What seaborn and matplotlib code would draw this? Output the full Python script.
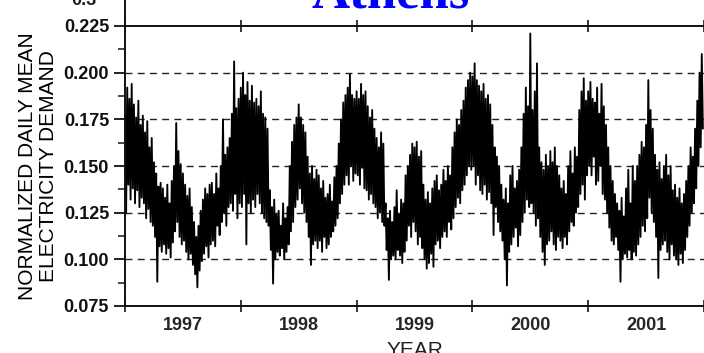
import numpy as np
import matplotlib
matplotlib.use("Agg")
import matplotlib.pyplot as plt
from matplotlib.lines import Line2D
import seaborn as sns

# weekly peaks / troughs of normalized daily mean demand
years = [1997, 1998, 1999, 2000, 2001]
year_labels = ["1997", "1998", "1999", "2000", "2001"]

high_1997 = [0.178, 0.192, 0.186, 0.194, 0.183, 0.176, 0.185, 0.172, 0.177, 0.168, 0.174, 0.160, 0.165,
             0.152, 0.146, 0.139, 0.141, 0.138, 0.133, 0.140, 0.130, 0.142, 0.150, 0.173, 0.158, 0.151,
             0.146, 0.140, 0.134, 0.138, 0.128, 0.120, 0.112, 0.118, 0.126, 0.132, 0.138, 0.135, 0.140,
             0.141, 0.135, 0.146, 0.138, 0.150, 0.175, 0.156, 0.160, 0.165, 0.178, 0.206, 0.181, 0.186]
low_1997 = [0.125, 0.140, 0.132, 0.138, 0.130, 0.137, 0.128, 0.133, 0.130, 0.122, 0.127, 0.120, 0.118,
            0.112, 0.088, 0.107, 0.104, 0.108, 0.103, 0.106, 0.101, 0.109, 0.115, 0.120, 0.112, 0.108,
            0.110, 0.104, 0.100, 0.103, 0.097, 0.092, 0.085, 0.094, 0.099, 0.103, 0.107, 0.101, 0.108,
            0.110, 0.107, 0.118, 0.113, 0.120, 0.125, 0.118, 0.128, 0.130, 0.126, 0.135, 0.122, 0.130]

high_1998 = [0.192, 0.200, 0.188, 0.195, 0.185, 0.193, 0.184, 0.186, 0.182, 0.190, 0.178, 0.176, 0.170,
             0.137, 0.128, 0.132, 0.124, 0.126, 0.118, 0.130, 0.122, 0.128, 0.150, 0.163, 0.172, 0.176,
             0.183, 0.176, 0.172, 0.168, 0.155, 0.146, 0.150, 0.143, 0.148, 0.145, 0.138, 0.142, 0.133,
             0.135, 0.140, 0.131, 0.144, 0.150, 0.162, 0.175, 0.184, 0.188, 0.192, 0.199, 0.188, 0.186]
low_1998 = [0.128, 0.135, 0.108, 0.130, 0.125, 0.132, 0.128, 0.135, 0.130, 0.125, 0.122, 0.120, 0.118,
            0.105, 0.087, 0.100, 0.104, 0.102, 0.106, 0.100, 0.104, 0.108, 0.115, 0.120, 0.128, 0.132,
            0.138, 0.130, 0.125, 0.120, 0.112, 0.097, 0.108, 0.110, 0.106, 0.110, 0.104, 0.112, 0.106,
            0.108, 0.112, 0.115, 0.118, 0.122, 0.130, 0.135, 0.140, 0.145, 0.140, 0.150, 0.142, 0.146]

high_1999 = [0.190, 0.186, 0.194, 0.188, 0.190, 0.182, 0.176, 0.180, 0.170, 0.165, 0.160, 0.168, 0.162,
             0.130, 0.122, 0.126, 0.120, 0.128, 0.137, 0.124, 0.132, 0.130, 0.145, 0.150, 0.156, 0.162,
             0.160, 0.163, 0.155, 0.158, 0.140, 0.132, 0.136, 0.130, 0.138, 0.142, 0.145, 0.137, 0.140,
             0.148, 0.142, 0.150, 0.145, 0.160, 0.168, 0.175, 0.172, 0.180, 0.185, 0.192, 0.196, 0.200]
low_1999 = [0.145, 0.140, 0.149, 0.138, 0.137, 0.132, 0.135, 0.130, 0.128, 0.122, 0.125, 0.120, 0.118,
            0.105, 0.089, 0.100, 0.102, 0.100, 0.105, 0.102, 0.098, 0.104, 0.110, 0.118, 0.112, 0.120,
            0.115, 0.108, 0.112, 0.106, 0.100, 0.095, 0.098, 0.103, 0.096, 0.108, 0.110, 0.106, 0.112,
            0.115, 0.112, 0.120, 0.116, 0.122, 0.128, 0.133, 0.130, 0.137, 0.140, 0.145, 0.150, 0.148]

high_2000 = [0.198, 0.205, 0.196, 0.193, 0.190, 0.194, 0.186, 0.188, 0.183, 0.172, 0.160, 0.155, 0.150,
             0.140, 0.132, 0.138, 0.130, 0.145, 0.150, 0.138, 0.142, 0.148, 0.160, 0.178, 0.192, 0.182,
             0.221, 0.180, 0.190, 0.205, 0.160, 0.152, 0.148, 0.156, 0.150, 0.158, 0.152, 0.160, 0.150,
             0.145, 0.138, 0.142, 0.135, 0.150, 0.158, 0.146, 0.160, 0.155, 0.180, 0.190, 0.197, 0.185]
low_2000 = [0.150, 0.140, 0.145, 0.137, 0.135, 0.140, 0.132, 0.136, 0.130, 0.113, 0.128, 0.120, 0.115,
            0.110, 0.100, 0.086, 0.104, 0.108, 0.112, 0.117, 0.107, 0.113, 0.120, 0.125, 0.132, 0.128,
            0.130, 0.125, 0.118, 0.122, 0.112, 0.104, 0.097, 0.108, 0.110, 0.115, 0.108, 0.105, 0.112,
            0.110, 0.106, 0.112, 0.108, 0.115, 0.120, 0.118, 0.125, 0.128, 0.135, 0.140, 0.132, 0.145]

high_2001 = [0.190, 0.195, 0.186, 0.184, 0.192, 0.178, 0.194, 0.182, 0.172, 0.160, 0.150, 0.142, 0.135,
             0.130, 0.126, 0.133, 0.123, 0.138, 0.148, 0.130, 0.150, 0.142, 0.150, 0.156, 0.163, 0.160,
             0.172, 0.196, 0.180, 0.170, 0.156, 0.148, 0.152, 0.143, 0.150, 0.156, 0.145, 0.150, 0.137,
             0.140, 0.133, 0.138, 0.130, 0.135, 0.142, 0.150, 0.160, 0.155, 0.170, 0.185, 0.200, 0.210]
low_2001 = [0.150, 0.145, 0.155, 0.140, 0.142, 0.150, 0.135, 0.132, 0.125, 0.117, 0.110, 0.108, 0.112,
            0.105, 0.088, 0.100, 0.103, 0.101, 0.105, 0.100, 0.104, 0.102, 0.108, 0.112, 0.118, 0.115,
            0.122, 0.133, 0.125, 0.120, 0.112, 0.090, 0.105, 0.108, 0.110, 0.104, 0.100, 0.108, 0.102,
            0.100, 0.097, 0.103, 0.098, 0.105, 0.112, 0.118, 0.125, 0.130, 0.138, 0.150, 0.160, 0.170]

highs = high_1997 + high_1998 + high_1999 + high_2000 + high_2001
lows = low_1997 + low_1998 + low_1999 + low_2000 + low_2001

# weekday peak then weekend trough, one pair per week
n = len(highs)
t_hi = 1997 + np.arange(n) / 52.0
t_lo = t_hi + 0.5 / 52.0
t = np.column_stack([t_hi, t_lo]).ravel()
v = np.column_stack([highs, lows]).ravel()

sns.set_style("ticks")
plt.rcParams['font.family'] = ['Liberation Sans', 'DejaVu Sans']

fig = plt.figure(figsize=(7.04, 3.53), dpi=100)
ax = fig.add_axes([125/704, 1-306/353, 1-125/704, 280/353])

sns.lineplot(x=t, y=v, ax=ax, color='black', lw=1.35, estimator=None, sort=False)

ax.set_xlim(1997.0, 1997 + 579/117.0)
ax.set_ylim(0.075, 0.225)

yt = [0.075, 0.100, 0.125, 0.150, 0.175, 0.200, 0.225]
ax.set_yticks(yt)
ax.set_yticklabels(["%.3f" % y for y in yt], fontsize=13, fontweight='bold')
ax.set_yticks([0.0875, 0.1125, 0.1375, 0.1625, 0.1875, 0.2125], minor=True)

ax.set_xticks(years + [2002])
ax.set_xticklabels([])
ax.set_xticks([y + 0.5 for y in years], minor=True)
ax.set_xticklabels(year_labels, minor=True, fontsize=13, fontweight='bold')

ax.tick_params(axis='y', which='major', direction='out', length=8, width=1.3, pad=3.5, colors='#111111')
ax.tick_params(axis='y', which='minor', direction='out', length=5, width=1.2)
ax.tick_params(axis='x', which='major', direction='inout', length=9, width=1.3, top=True)
ax.tick_params(axis='x', which='minor', length=0, pad=8)

for d in [0.100, 0.125, 0.150, 0.175, 0.200]:
    ax.axhline(d, color='#222222', lw=1.0, ls=(0, (5, 3.8)), zorder=0)

for s in ['left', 'bottom', 'top']:
    ax.spines[s].set_linewidth(1.4)
    ax.spines[s].set_color('#111111')
ax.spines['right'].set_visible(False)

ax.set_ylabel("NORMALIZED DAILY MEAN\nELECTRICITY DEMAND", fontsize=15, linespacing=1.1, color='black')
ax.yaxis.set_label_coords(-0.116, 0.5)
ax.set_xlabel("YEAR", fontsize=15, color='#222222')
ax.xaxis.set_label_coords(0.5, -0.126)

# bits of the panel above, cut off by the crop
fig.add_artist(Line2D([125/704, 125/704], [1-26/353, 1.0], color='#111111', lw=1.4))
fig.text(84/704, 1-5/353, "0.3", ha='center', va='baseline', fontsize=13, fontweight='bold', color='#222222')
fig.text(391/704, 1-8/353, "Athens", ha='center', va='baseline', fontsize=38, fontweight='bold',
         color='#0000ff', family='Liberation Serif')

fig.savefig("out.png", dpi=100)
